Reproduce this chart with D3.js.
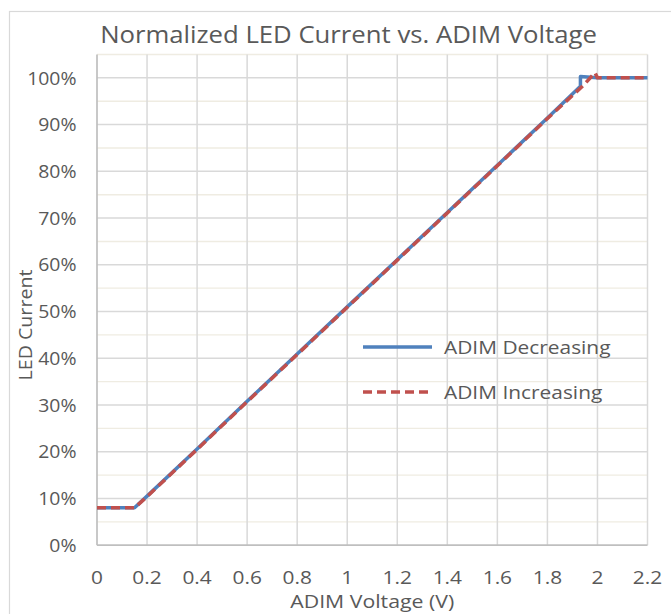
<!DOCTYPE html>
<html><head><meta charset="utf-8">
<script src="https://cdn.jsdelivr.net/npm/d3@7"></script>
<style>
html,body{margin:0;padding:0;background:#fff;}
svg text{font-family:"Open Sans",sans-serif;fill:#595959;}
</style></head>
<body>
<svg id="c" width="671" height="614"></svg>
<script>
// Data
const titleText = "Normalized LED Current vs. ADIM Voltage";
const xTicks = [0,0.2,0.4,0.6,0.8,1,1.2,1.4,1.6,1.8,2,2.2];
const yTicks = [0,0.1,0.2,0.3,0.4,0.5,0.6,0.7,0.8,0.9,1.0];
const yMinor = [0.05,0.15,0.25,0.35,0.45,0.55,0.65,0.75,0.85,0.95,1.05];
const decV = [0, 0.05, 0.1, 0.15, 0.2, 0.4, 0.6, 0.8, 1.0, 1.2, 1.4, 1.6, 1.8, 1.932, 1.932, 2.0, 2.2];
const decI = [0.08, 0.08, 0.08, 0.08, 0.105, 0.206, 0.308, 0.409, 0.51, 0.611, 0.712, 0.813, 0.914, 0.982, 1.003, 1.0, 1.0];
const incV = [0, 0.05, 0.1, 0.15, 0.2, 0.4, 0.6, 0.8, 1.0, 1.2, 1.4, 1.6, 1.8, 1.94, 1.99, 2.0, 2.2];
const incI = [0.08, 0.08, 0.08, 0.08, 0.104, 0.205, 0.307, 0.408, 0.509, 0.61, 0.711, 0.812, 0.913, 0.982, 1.011, 1.0, 1.0];
const seriesNames = ["ADIM Decreasing", "ADIM Increasing"];

const svg = d3.select("#c");
const L = 97, R = 647.5, T = 54.5, B = 545.2;
const x = d3.scaleLinear().domain([0,2.2]).range([L,R]);
const y = d3.scaleLinear().domain([0,1.05]).range([B,T]);

// helper: text with horizontal stretch
function stretched(sel, sx, rot) {
  return sel.attr("transform", d => `translate(${d.x},${d.y})${rot?` rotate(${rot})`:""} scale(${sx},1)`)
    .attr("x",0).attr("y",0);
}

// chart border
svg.append("rect").attr("x",9.5).attr("y",11.5).attr("width",680).attr("height",620)
  .attr("fill","#fff").attr("stroke","#d9d9d9").attr("stroke-width",1.2);

// minor horizontal gridlines
svg.append("g").selectAll("line").data(yMinor).join("line")
  .attr("x1",L).attr("x2",R).attr("y1",d=>y(d)).attr("y2",d=>y(d))
  .attr("stroke","#efece2").attr("stroke-width",1.4);

// major horizontal gridlines
svg.append("g").selectAll("line").data(yTicks.slice(1)).join("line")
  .attr("x1",L).attr("x2",R).attr("y1",d=>y(d)).attr("y2",d=>y(d))
  .attr("stroke","#d9d9d9").attr("stroke-width",1.5);

// vertical gridlines
svg.append("g").selectAll("line").data(xTicks.slice(1)).join("line")
  .attr("x1",d=>x(d)).attr("x2",d=>x(d)).attr("y1",T).attr("y2",B)
  .attr("stroke","#d9d9d9").attr("stroke-width",1.5);

// axes lines
svg.append("line").attr("x1",L).attr("x2",L).attr("y1",T).attr("y2",B)
  .attr("stroke","#bfbfbf").attr("stroke-width",1.7);
svg.append("line").attr("x1",L).attr("x2",R).attr("y1",B).attr("y2",B)
  .attr("stroke","#bfbfbf").attr("stroke-width",1.7);

// y tick labels
const fmtP = d3.format(".0%");
stretched(svg.append("g").selectAll("text").data(yTicks.map(v=>({v, x:76.5, y:y(v)}))).join("text"), 1.05)
  .attr("dy","0.36em").attr("text-anchor","end")
  .attr("font-size",18.5).text(d=>fmtP(d.v));

// x tick labels
stretched(svg.append("g").selectAll("text").data(xTicks.map(v=>({v, x:x(v), y:577.5}))).join("text"), 1.13)
  .attr("dy","0.36em").attr("text-anchor","middle")
  .attr("font-size",18.5).text(d=>d3.format("~g")(d.v));

// axis titles
stretched(svg.append("text").datum({x:x(1.1), y:601}), 1.15)
  .attr("dy","0.36em").attr("text-anchor","middle")
  .attr("font-size",18.5).text("ADIM Voltage (V)");
stretched(svg.append("text").datum({x:25, y:325}), 1.06, -90)
  .attr("dy","0.36em").attr("text-anchor","middle")
  .attr("font-size",18.5).text("LED Current");

// title
stretched(svg.append("text").datum({x:348.5, y:34}), 1.08)
  .attr("dy","0.36em").attr("text-anchor","middle")
  .attr("font-size",23.8).text(titleText);

// lines
const line = d3.line().x(d=>x(d[0])).y(d=>y(d[1]));
const decData = decV.map((v,i)=>[v,decI[i]]);
const incData = incV.map((v,i)=>[v,incI[i]]);
svg.append("path").datum(decData).attr("d",line).attr("fill","none")
  .attr("stroke","#4f81bd").attr("stroke-width",3.5).attr("stroke-linejoin","round");
svg.append("path").datum(incData).attr("d",line).attr("fill","none")
  .attr("stroke","#c0504d").attr("stroke-width",3.5).attr("stroke-dasharray","9,5")
  .attr("stroke-linejoin","round");

// legend
const lg = svg.append("g");
const ly = [347, 392];
lg.append("line").attr("x1",363).attr("x2",432).attr("y1",ly[0]).attr("y2",ly[0])
  .attr("stroke","#4f81bd").attr("stroke-width",3.5);
lg.append("line").attr("x1",363).attr("x2",432).attr("y1",ly[1]).attr("y2",ly[1])
  .attr("stroke","#c0504d").attr("stroke-width",3.5).attr("stroke-dasharray","9,5");
stretched(lg.selectAll("text").data(seriesNames.map((n,i)=>({n, x:444, y:ly[i]}))).join("text"), 1.13)
  .attr("dy","0.36em").attr("font-size",18.5).text(d=>d.n);
</script>
</body></html>
